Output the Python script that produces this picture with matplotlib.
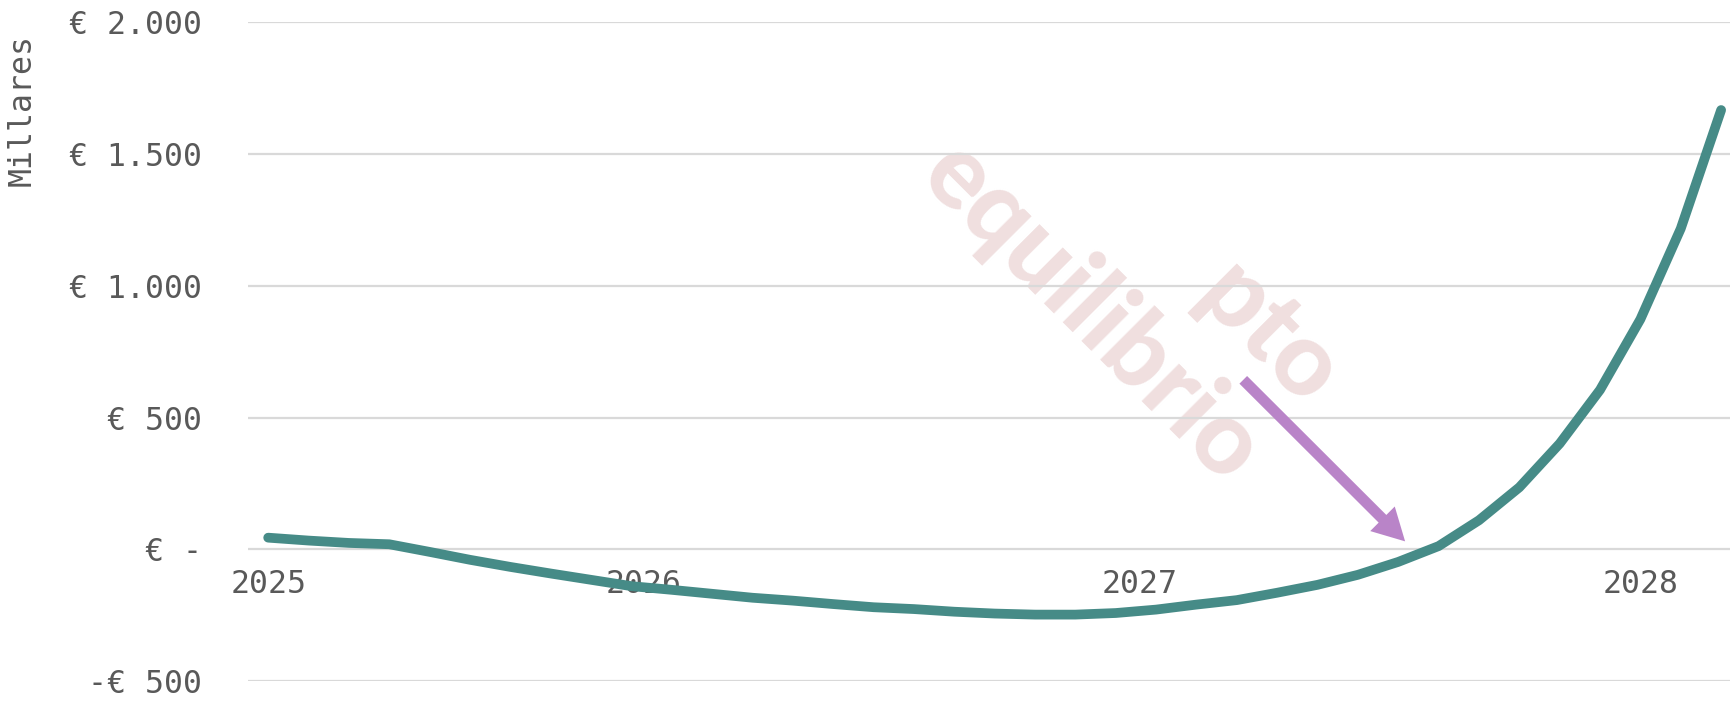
import matplotlib
matplotlib.use("Agg")
import matplotlib.pyplot as plt
import numpy as np

# ---- data (monthly values, thousands of euros) ----
values = [44, 33, 24, 19, -10, -40, -67, -92, -116, -140,
          -154, -169, -184, -195, -208, -220, -227, -237, -244, -248,
          -248, -242, -229, -210, -193, -165, -135, -97, -48, 12,
          110, 235, 401, 605, 873, 1217, 1667]
year_labels = ["2025", "2026", "2027", "2028"]
year_label_pos = [0, 9.3, 21.6, 34.0]
y_ticks = [-500, 0, 500, 1000, 1500, 2000]
y_tick_labels = ["-€ 500", "€ -", "€ 500", "€ 1.000", "€ 1.500", "€ 2.000"]
y_title = "Millares"
watermark_1 = "equilibrio"
watermark_2 = "pto"

# ---- styling ----
W, H, DPI = 1730, 704, 100
line_color = "#468B87"
grid_color = "#D9D9D9"
text_color = "#595959"
arrow_color = "#B984C8"
wm_color = "#F0DFDF"
mono = "DejaVu Sans Mono"
fs = 22.7

fig = plt.figure(figsize=(W / DPI, H / DPI), dpi=DPI)
ax = fig.add_axes([248 / W, (H - 681) / H, 1 - 248 / W, (681 - 22.3) / H])

x = np.arange(len(values))
ax.plot(x, values, color=line_color, lw=7, solid_capstyle="round",
        solid_joinstyle="round", zorder=3)

ax.set_xlim(-0.5, 36.22)
ax.set_ylim(-500, 2000)

ax.set_yticks(y_ticks)
ax.set_yticklabels(y_tick_labels, fontfamily=mono, fontsize=fs, color=text_color)
ax.tick_params(axis="y", length=0, pad=33)

ax.spines["bottom"].set_position(("data", 0))
ax.set_xticks(year_label_pos)
ax.set_xticklabels(year_labels, fontfamily=mono, fontsize=fs, color=text_color)
ax.tick_params(axis="x", length=0, pad=14)

for s in ax.spines.values():
    s.set_visible(False)
ax.set_axisbelow(True)
ax.grid(axis="y", color=grid_color, lw=1.6)
ax.grid(axis="x", visible=False)

fig.text(22 / W, 1 - 110 / H, y_title, rotation=90, ha="center", va="center",
         fontfamily=mono, fontsize=fs, color=text_color)

# watermark
ax.text(20.42, 896, watermark_1, rotation=-45, ha="center", va="center",
        fontfamily="Lato", fontweight=900, fontsize=74, color=wm_color,
        zorder=0.2, rotation_mode="anchor")
ax.text(24.8, 815, watermark_2, rotation=-45, ha="center", va="center",
        fontfamily="Lato", fontweight=900, fontsize=74, color=wm_color,
        zorder=0.2, rotation_mode="anchor")

# arrow pointing to break-even
ax.annotate("", xy=(28.17, 30), xytext=(24.16, 643),
            arrowprops=dict(arrowstyle="simple,head_length=2.3,head_width=2.5,tail_width=0.78",
                            mutation_scale=10, fc=arrow_color, ec="none",
                            lw=0, shrinkA=0, shrinkB=0),
            zorder=4)

fig.savefig("out.png", dpi=DPI)
